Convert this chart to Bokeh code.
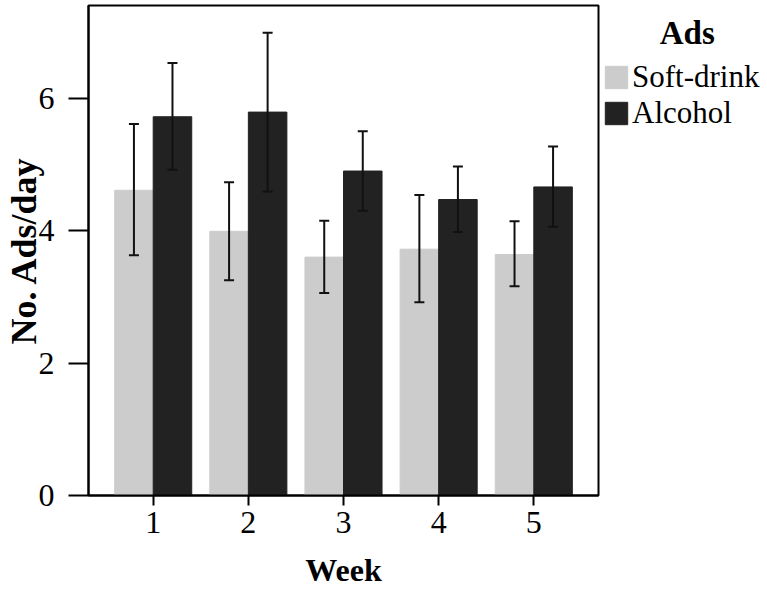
from bokeh.plotting import figure
from bokeh.models import ColumnDataSource, Legend, LegendItem, FixedTicker, Range1d
from bokeh.transform import dodge
from bokeh.embed import file_html
from bokeh.resources import INLINE

weeks = [1, 2, 3, 4, 5]
soft_mean = [4.61, 3.99, 3.60, 3.72, 3.64]
soft_lower = [3.63, 3.25, 3.06, 2.92, 3.16]
soft_upper = [5.61, 4.73, 4.15, 4.54, 4.14]
alc_mean = [5.72, 5.79, 4.90, 4.47, 4.66]
alc_lower = [4.92, 4.59, 4.30, 3.98, 4.06]
alc_upper = [6.53, 6.99, 5.50, 4.97, 5.27]
y_ticks = [0, 2, 4, 6]
series_names = ["Soft-drink", "Alcohol"]
legend_title = "Ads"

FONT = "Liberation Serif"
BAR_W = 0.405
OFF = BAR_W / 2
ERR_COLOR = "#111111"

src = ColumnDataSource(dict(week=weeks, soft=soft_mean, soft_lo=soft_lower, soft_hi=soft_upper,
                            alc=alc_mean, alc_lo=alc_lower, alc_hi=alc_upper))

p = figure(width=760, height=590, frame_width=510, frame_height=490,
           output_backend="svg", toolbar_location=None,
           x_range=Range1d(0.32, 5.68), y_range=Range1d(0, 7.40),
           min_border_left=88, min_border_right=162, min_border_top=5, min_border_bottom=95)

r_soft = p.vbar(x=dodge("week", -OFF, range=p.x_range), top="soft", width=BAR_W, source=src,
                fill_color="#cccccc", line_color="#cccccc")
r_alc = p.vbar(x=dodge("week", OFF, range=p.x_range), top="alc", width=BAR_W, source=src,
               fill_color="#222222", line_color="#222222")

for lo, hi, off in (("soft_lo", "soft_hi", -OFF), ("alc_lo", "alc_hi", OFF)):
    xs = dodge("week", off, range=p.x_range)
    p.segment(x0=xs, x1=xs, y0=lo, y1=hi, source=src, line_color=ERR_COLOR, line_width=2)
    for end in (lo, hi):
        p.scatter(x=xs, y=end, source=src, marker="dash", size=10,
                  line_color=ERR_COLOR, line_width=2)

p.xgrid.visible = False
p.ygrid.visible = False
p.outline_line_color = "black"
p.outline_line_width = 2

p.xaxis.ticker = FixedTicker(ticks=weeks)
p.yaxis.ticker = FixedTicker(ticks=y_ticks)
p.xaxis.minor_tick_line_color = None
p.yaxis.minor_tick_line_color = None
p.xaxis.major_tick_in = 0
p.xaxis.major_tick_out = 10
p.yaxis.major_tick_in = 0
p.yaxis.major_tick_out = 20
for ax in (p.xaxis[0], p.yaxis[0]):
    ax.major_tick_line_width = 2
    ax.major_tick_line_color = "black"
    ax.axis_line_width = 2
    ax.axis_line_color = "black"
    ax.major_label_text_font = FONT
    ax.major_label_text_font_size = "32px"
    ax.major_label_text_color = "black"
    ax.axis_label_text_font = FONT
    ax.axis_label_text_font_style = "bold"
    ax.axis_label_text_color = "black"
p.xaxis.major_label_standoff = 6
p.yaxis.major_label_standoff = 14
p.xaxis.axis_label = "Week"
p.yaxis.axis_label = "No. Ads/day"
p.xaxis.axis_label_text_font_size = "32px"
p.yaxis.axis_label_text_font_size = "36px"
p.xaxis.axis_label_standoff = 16
p.yaxis.axis_label_standoff = -8

legend = Legend(items=[LegendItem(label=series_names[0], renderers=[r_soft]),
                       LegendItem(label=series_names[1], renderers=[r_alc])],
                title="\u00a0" * 7 + legend_title,
                title_text_font=FONT, title_text_font_size="33px", title_text_font_style="bold",
                title_text_color="black", title_standoff=7,
                location=(4, 364), orientation="vertical",
                glyph_width=28, glyph_height=28, label_height=28, spacing=0,
                label_standoff=2, padding=0, margin=0,
                label_text_font=FONT, label_text_font_size="31px",
                label_text_color="black",
                border_line_color=None, background_fill_alpha=0)
p.add_layout(legend, "right")

open("out.html", "w").write(file_html(p, INLINE))
